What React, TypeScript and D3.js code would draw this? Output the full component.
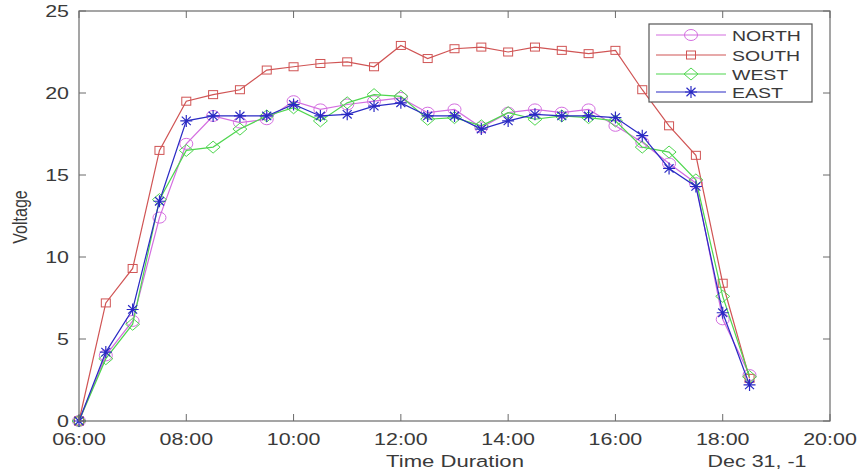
import React from "react";
import * as d3 from "d3";

const times = ["06:00","06:30","07:00","07:30","08:00","08:30","09:00","09:30","10:00","10:30","11:00","11:30","12:00","12:30","13:00","13:30","14:00","14:30","15:00","15:30","16:00","16:30","17:00","17:30","18:00","18:30"];
const north = [0,4.0,6.1,12.4,16.9,18.6,18.2,18.4,19.5,19.0,19.3,19.5,19.7,18.8,19.0,17.9,18.8,19.0,18.8,19.0,18.0,17.0,15.7,14.5,6.2,2.8];
const south = [0,7.2,9.3,16.5,19.5,19.9,20.2,21.4,21.6,21.8,21.9,21.6,22.9,22.1,22.7,22.8,22.5,22.8,22.6,22.4,22.6,20.2,18.0,16.2,8.4,2.6];
const west = [0,3.8,5.9,13.5,16.5,16.7,17.8,18.6,19.1,18.3,19.4,19.9,19.8,18.4,18.5,18.0,18.8,18.4,18.6,18.5,18.3,16.7,16.4,14.7,7.6,2.7];
const east = [0,4.2,6.8,13.4,18.3,18.6,18.6,18.6,19.3,18.6,18.7,19.2,19.4,18.6,18.6,17.8,18.3,18.7,18.6,18.6,18.5,17.4,15.4,14.3,6.6,2.2];
const seriesNames = ["NORTH","SOUTH","WEST","EAST"];
const seriesColors = ["#d46ee0","#d05454","#4fd64f","#2a2ac4"];
const seriesMarkers = ["circle","square","diamond","star"];
const yTicks = [0,5,10,15,20,25];
const xTickLabels = ["06:00","08:00","10:00","12:00","14:00","16:00","18:00","20:00"];

const W = 859, H = 473;
const L = 79, R = 830, T = 11, B = 421;
const SX = 1.3;
const FONT = "'Liberation Sans', Arial, sans-serif";
const TXT = "#3a3a3a";

const parse = d3.timeParse("%H:%M");

function Txt({x, y, children, size = 16, anchor = "middle", rotate = 0, sx = SX, fill = TXT}: any) {
  const tr = rotate ? `translate(${x},${y}) rotate(${rotate}) scale(1,${sx})` : `translate(${x},${y}) scale(${sx},1)`;
  return (
    <text transform={tr} fontFamily={FONT} fontSize={size} textAnchor={anchor} fill={fill}>{children}</text>
  );
}

function Marker({type, x, y, color}: any) {
  if (type === "circle") return <ellipse cx={x} cy={y} rx={6.5} ry={5.5} fill="none" stroke={color} strokeWidth={1} />;
  if (type === "square") return <rect x={x - 4.5} y={y - 4} width={9} height={8} fill="none" stroke={color} strokeWidth={1} />;
  if (type === "diamond") return <path d={`M${x - 7},${y}L${x},${y - 6}L${x + 7},${y}L${x},${y + 6}Z`} fill="none" stroke={color} strokeWidth={1} />;
  const r = 6;
  const p: string[] = [];
  p.push(`M${x - r},${y}L${x + r},${y}`);
  p.push(`M${x},${y - r}L${x},${y + r}`);
  p.push(`M${x - r * 0.75},${y - r * 0.7}L${x + r * 0.75},${y + r * 0.7}`);
  p.push(`M${x - r * 0.75},${y + r * 0.7}L${x + r * 0.75},${y - r * 0.7}`);
  return <path d={p.join("")} fill="none" stroke={color} strokeWidth={1.2} />;
}

export default function App() {
  const x = d3.scaleTime().domain([parse("06:00")!, parse("20:00")!]).range([L, R]);
  const y = d3.scaleLinear().domain([0, 25]).range([B, T]);
  const dates = times.map(t => parse(t)!);
  const data = [north, south, west, east];
  const line = d3.line<number>().x((_, i) => x(dates[i])).y(d => y(d));
  const xTicks = xTickLabels.map(t => parse(t)!);
  const fmt = d3.timeFormat("%H:%M");
  const axisColor = "#6a6a6a";
  const tl = 7;

  const legX = 649, legY = 24, legW = 163, legH = 78;
  const legRows = [35, 55, 74, 92];

  return (
    <svg width={W} height={H} style={{position: "absolute", left: 0, top: 0, background: "#fff"}}>
      <rect x={0} y={0} width={W} height={H} fill="#fff" />
      {data.map((s, k) => (
        <g key={seriesNames[k]}>
          <path d={line(s) || ""} fill="none" stroke={seriesColors[k]} strokeWidth={1.2} />
          {s.map((v, i) => <Marker key={i} type={seriesMarkers[k]} x={x(dates[i])} y={y(v)} color={seriesColors[k]} />)}
        </g>
      ))}
      <rect x={L} y={T} width={R - L} height={B - T} fill="none" stroke={axisColor} strokeWidth={1.2} />
      {xTicks.map((d, i) => (
        <g key={"xt" + i}>
          <line x1={x(d)} x2={x(d)} y1={B} y2={B - tl} stroke={axisColor} />
          <line x1={x(d)} x2={x(d)} y1={T} y2={T + tl} stroke={axisColor} />
          <Txt x={x(d)} y={445} size={16.5}>{fmt(d)}</Txt>
        </g>
      ))}
      {yTicks.map((v, i) => (
        <g key={"yt" + i}>
          <line x1={L} x2={L + tl} y1={y(v)} y2={y(v)} stroke={axisColor} />
          <line x1={R} x2={R - tl} y1={y(v)} y2={y(v)} stroke={axisColor} />
          <Txt x={69} y={y(v) + 6} size={16.5} anchor="end">{v}</Txt>
        </g>
      ))}
      <Txt x={455} y={467} size={17}>Time Duration</Txt>
      <Txt x={757} y={467} size={16.5}>Dec 31, -1</Txt>
      <Txt x={27} y={217} size={16} rotate={-90}>Voltage</Txt>
      <rect x={legX} y={legY} width={legW} height={legH} fill="#fff" stroke="#555" strokeWidth={1.2} />
      {seriesNames.map((n, k) => (
        <g key={"lg" + n}>
          <line x1={656} x2={726} y1={legRows[k]} y2={legRows[k]} stroke={seriesColors[k]} strokeWidth={1.2} />
          <Marker type={seriesMarkers[k]} x={691} y={legRows[k]} color={seriesColors[k]} />
          <Txt x={732} y={legRows[k] + 5.5} size={15} anchor="start" sx={1.3}>{n}</Txt>
        </g>
      ))}
    </svg>
  );
}
